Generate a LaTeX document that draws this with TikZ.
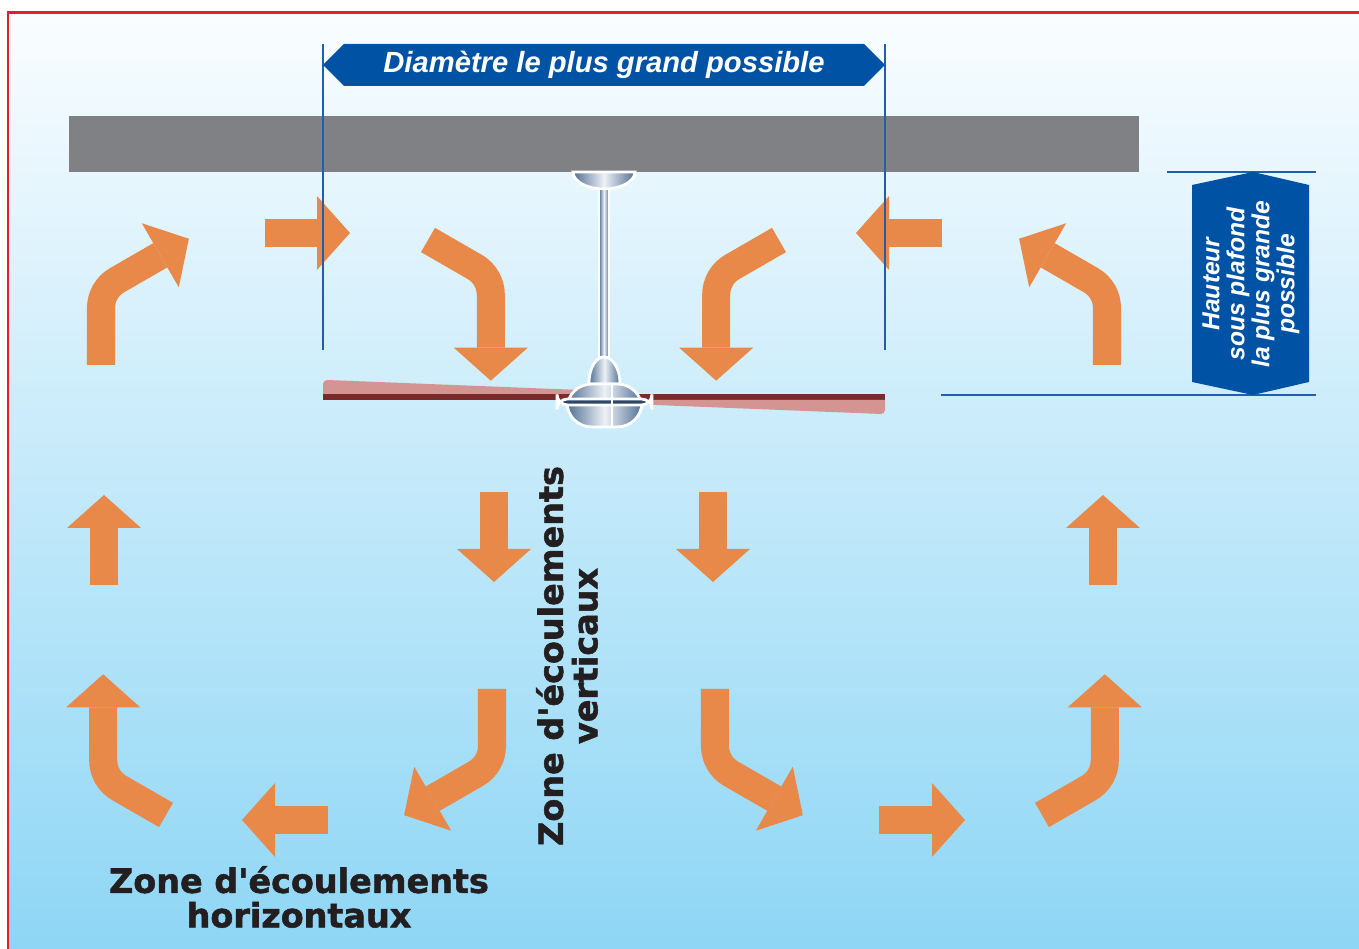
\documentclass[tikz,border=0pt]{standalone}
\usepackage{fontspec}
\setmainfont{Liberation Sans}
\newfontfamily\heavyfont[BoldFeatures={FakeBold=1.6}]{DejaVu Sans}
\usepackage{xcolor}
\usepackage{tikz}
\usetikzlibrary{positioning}
\definecolor{flowcol}{HTML}{E8894A}
\definecolor{ceilcol}{HTML}{808184}
\definecolor{tagblue}{HTML}{0052A5}
\definecolor{lineblue}{HTML}{1F5FAE}
\definecolor{skytop}{HTML}{FAFDFF}
\definecolor{skybot}{HTML}{8ED6F5}
\definecolor{steel}{HTML}{4F7095}
\definecolor{steeldark}{HTML}{2C4767}
\definecolor{steellight}{HTML}{EEF1F5}
\definecolor{bladecol}{HTML}{D49592}
\definecolor{bladedark}{HTML}{7B2A2A}
\definecolor{framered}{HTML}{E3202A}
\definecolor{inkcol}{HTML}{231F20}

\begin{document}
\begin{tikzpicture}[x=0.01cm, y=0.01cm]
% Define styles
\tikzset{
  shaft/.style={draw=flowcol, line width=0.28cm},
  guide/.style={draw=lineblue, line width=0.7pt},
  metal/.style={left color=steel, right color=steel, middle color=steellight, draw=white, line width=0.8pt},
  tagtext/.style={text=white, font=\bfseries\itshape},
  zonetext/.style={text=inkcol, font=\heavyfont\bfseries\fontsize{9.5}{9.8}\selectfont, align=center},
  % arrow pieces (the head is drawn along +x from its base)
  flow/.pic={
    \draw[shaft] (0,0) -- (#1,0);
    \fill[flowcol, shift={(#1,0)}] (0,-37) -- (33,0) -- (0,37) -- cycle;},
  bendout/.pic={
    \draw[shaft] (0,0) -- (0,57) arc[start angle=180, end angle=120, radius=32] -- (59.3,109.7);
    \fill[flowcol, shift={(59.3,109.7)}, rotate=30] (0,-37) -- (33,0) -- (0,37) -- cycle;},
  bendin/.pic={
    \draw[shaft] (0,0) -- (46.8,-27) arc[start angle=60, end angle=0, radius=32] -- (62.8,-107.7);
    \fill[flowcol, shift={(62.8,-107.7)}, rotate=-90] (0,-37) -- (33,0) -- (0,37) -- cycle;}
}
\useasboundingbox (0,0) rectangle (1359,949);

% Room and ceiling
\shade[top color=skytop, bottom color=skybot] (8,0) rectangle (1359,936);
\draw[framered, line width=0.85pt] (8,0) -- (8,936) -- (1359,936);
\fill[ceilcol] (69,777) rectangle (1139,833);

% Air flow, upper row
\pic at (101,584) {bendout};
\pic at (265,716) {flow=52};
\pic at (428,709) {bendin};
\pic[xscale=-1] at (779,709) {bendin};
\pic[rotate=180] at (942,716) {flow=53};
\pic[xscale=-1] at (1107,584) {bendout};

% Air flow, middle row
\pic[rotate=90] at (104,364) {flow=57};
\pic[rotate=-90] at (494,457) {flow=57};
\pic[rotate=-90] at (713,457) {flow=57};
\pic[rotate=90] at (1103,364) {flow=57};

% Air flow, lower row
\pic[rotate=180] at (166,134) {bendin};
\pic[rotate=180] at (328,129) {flow=53};
\pic[rotate=180] at (492,260) {bendout};
\pic[yscale=-1] at (715,260) {bendout};
\pic at (879,129) {flow=53};
\pic[yscale=-1] at (1042,134) {bendin};

% Diameter tag
\draw[guide] (323,905) -- (323,599);
\draw[guide] (885,905) -- (885,599);
\fill[tagblue] (323,884) -- (344,905) -- (864,905) -- (885,884) -- (864,863) -- (344,863) -- cycle;
\node[tagtext, font=\bfseries\itshape\fontsize{8.3}{10}\selectfont] (diam) at (604,884) {Diamètre le plus grand possible};

% Height tag
\draw[guide] (1167,777) -- (1316,777);
\draw[guide] (941,554) -- (1316,554);
\fill[tagblue] (1253,777) -- (1309,764) -- (1309,567) -- (1253,554) -- (1192,567) -- (1192,764) -- cycle;
\node[tagtext, font=\bfseries\itshape\fontsize{7}{7.1}\selectfont, align=center, rotate=90] (height) at (1251,665)
  {Hauteur\\sous plafond\\la plus grande\\possible};

% Fan blades
\fill[bladedark] (323,549) rectangle (885,555);
\fill[bladecol] (323,555) -- (323,565) arc[start angle=180, end angle=90, radius=4] -- (580,559) -- (580,555) -- cycle;
\fill[bladecol] (630,549) -- (885,549) -- (885,539) arc[start angle=0, end angle=-90, radius=4] -- (630,545) -- cycle;

% Fan body
\shadedraw[metal] (573,777) arc[start angle=180, end angle=360, x radius=31, y radius=17] -- cycle;
\shadedraw[metal, line width=0.5pt] (599,760) rectangle (609,592);
\shadedraw[metal] (589,565) .. controls (589,583) and (597,592) .. (604,592) .. controls (611,592) and (620,583) .. (620,565) -- cycle;
\shadedraw[metal, rounded corners=7] (567,522) rectangle (642,565);
\shadedraw[metal, left color=steeldark, right color=steeldark, rounded corners=3] (557,544) rectangle (652,550);
\draw[white, line width=0.6pt] (612,522) -- (612,565);

% Zone labels
\node[zonetext] (zoneh) at (299,52) {Zone d'écoulements\\horizontaux};
\node[zonetext, rotate=90] (zonev) at (567,293) {Zone d'écoulements\\verticaux};
\end{tikzpicture}
\end{document}
